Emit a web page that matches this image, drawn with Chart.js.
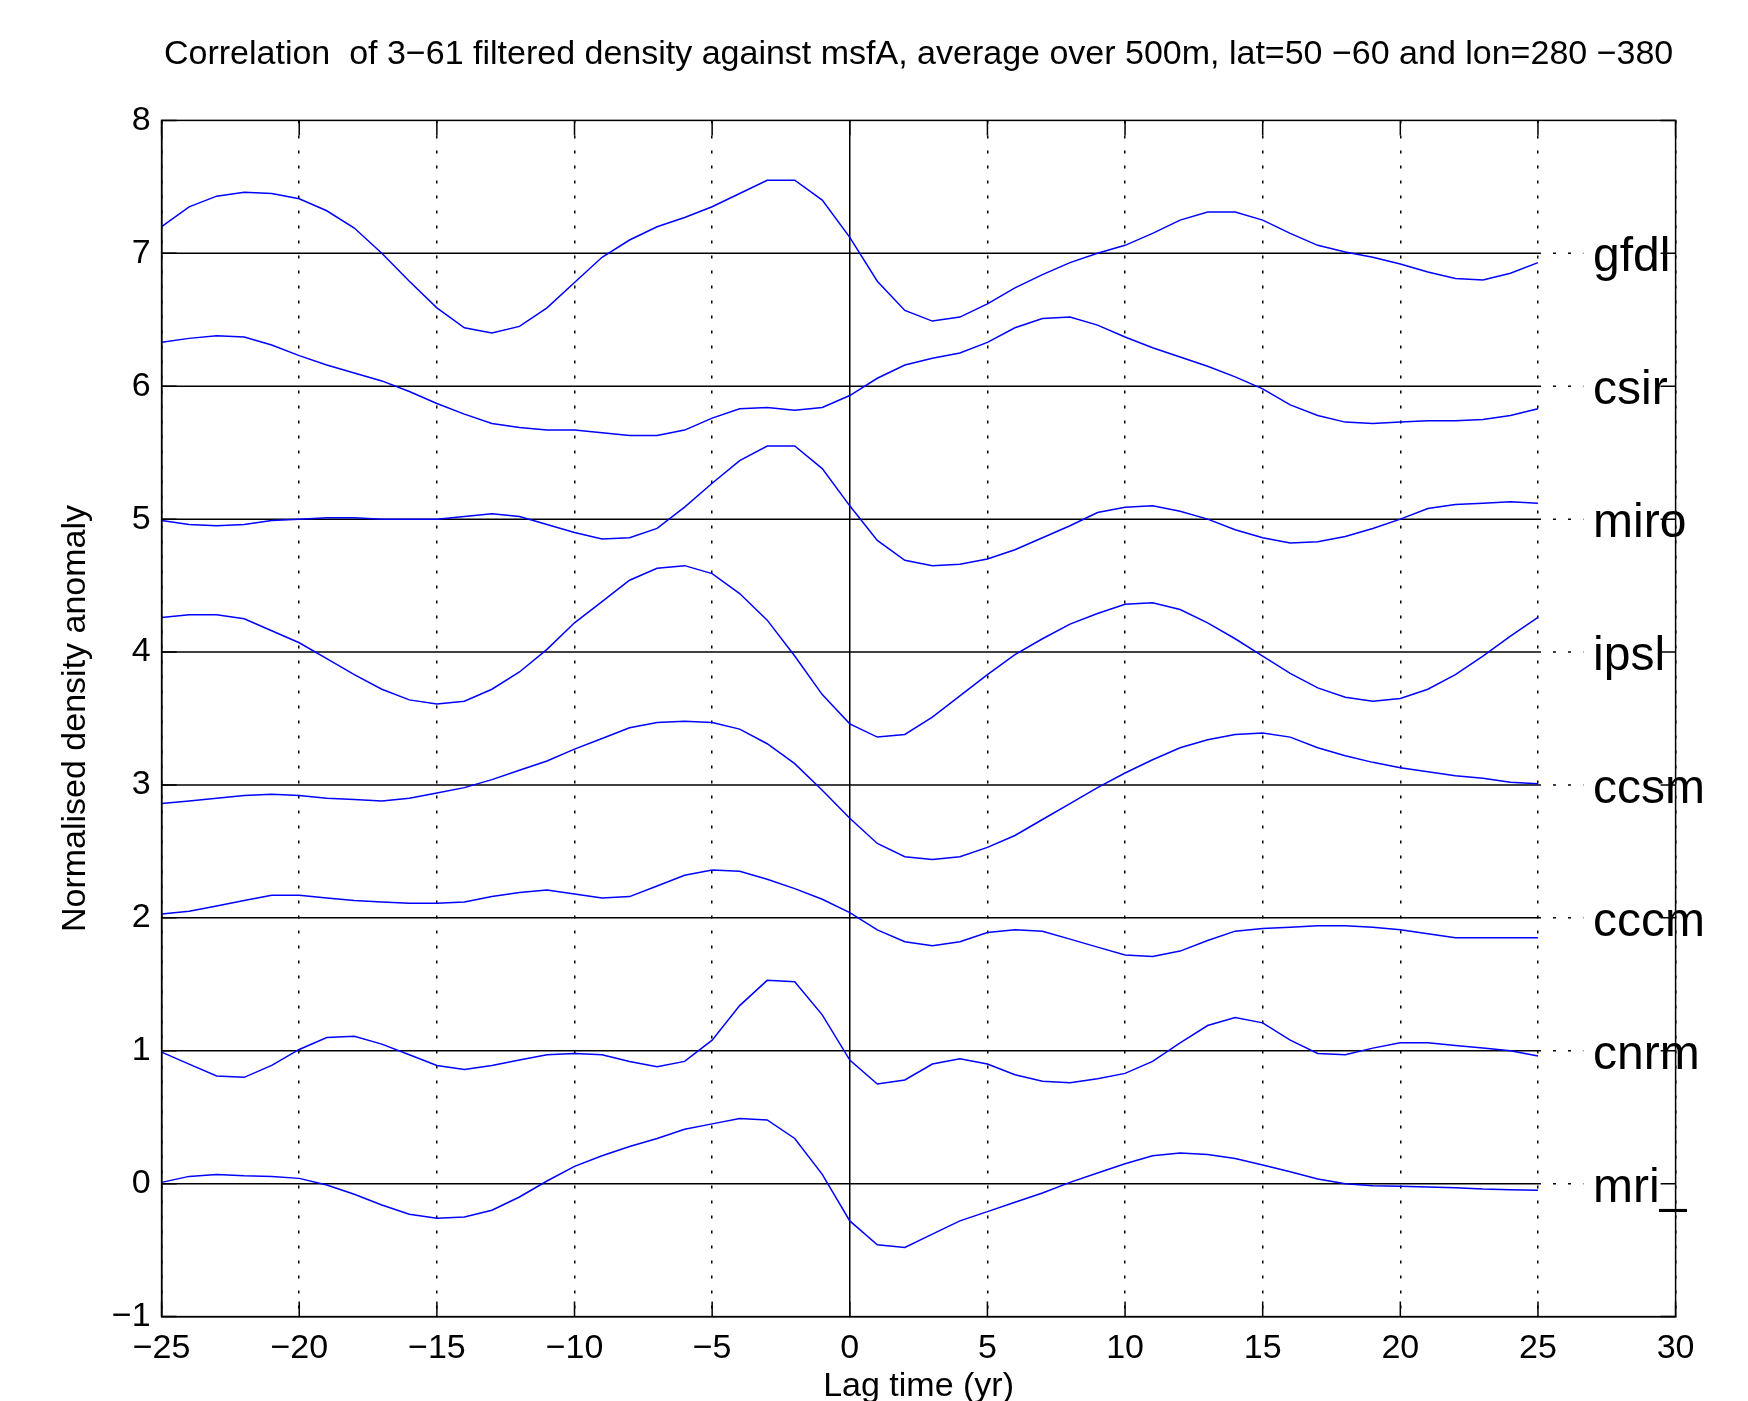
<!DOCTYPE html>
<html>
<head>
<meta charset="utf-8">
<title>Lag correlation of filtered density against msfA</title>
<script src="https://cdn.jsdelivr.net/npm/chart.js@4.4.1/dist/chart.umd.min.js"></script>
<style>
  html, body { margin: 0; padding: 0; background: #fff; }
  #wrap { width: 1748px; height: 1401px; }
</style>
</head>
<body>
<div id="wrap"><canvas id="lagChart" width="1748" height="1401"></canvas></div>
<script>
// lag in years (x axis)
const lagYears = [-25, -24, -23, -22, -21, -20, -19, -18, -17, -16, -15, -14, -13, -12, -11, -10, -9, -8, -7, -6,
  -5, -4, -3, -2, -1, 0, 1, 2, 3, 4, 5, 6, 7, 8, 9, 10, 11, 12, 13, 14,
  15, 16, 17, 18, 19, 20, 21, 22, 23, 24, 25];

// one curve per model, already shifted by its offset
const gfdl = [7.20, 7.35, 7.43, 7.46, 7.45, 7.41, 7.32, 7.19, 7.00, 6.79, 6.59, 6.44, 6.40, 6.45, 6.59, 6.78, 6.97, 7.10, 7.20, 7.27,
  7.35, 7.45, 7.55, 7.55, 7.40, 7.12, 6.79, 6.57, 6.49, 6.52, 6.62, 6.74, 6.84, 6.93, 7.00, 7.06, 7.15, 7.25, 7.31, 7.31,
  7.25, 7.15, 7.06, 7.01, 6.97, 6.92, 6.86, 6.81, 6.80, 6.85, 6.93];
const csir = [6.33, 6.36, 6.38, 6.37, 6.31, 6.23, 6.16, 6.10, 6.04, 5.96, 5.87, 5.79, 5.72, 5.69, 5.67, 5.67, 5.65, 5.63, 5.63, 5.67,
  5.76, 5.83, 5.84, 5.82, 5.84, 5.93, 6.06, 6.16, 6.21, 6.25, 6.33, 6.44, 6.51, 6.52, 6.46, 6.37, 6.29, 6.22, 6.15, 6.07,
  5.98, 5.86, 5.78, 5.73, 5.72, 5.73, 5.74, 5.74, 5.75, 5.78, 5.83];
const miro = [4.99, 4.96, 4.95, 4.96, 4.99, 5.00, 5.01, 5.01, 5.00, 5.00, 5.00, 5.02, 5.04, 5.02, 4.96, 4.90, 4.85, 4.86, 4.93, 5.09,
  5.27, 5.44, 5.55, 5.55, 5.38, 5.10, 4.84, 4.69, 4.65, 4.66, 4.70, 4.77, 4.86, 4.95, 5.05, 5.09, 5.10, 5.06, 5.00, 4.92,
  4.86, 4.82, 4.83, 4.87, 4.93, 5.00, 5.08, 5.11, 5.12, 5.13, 5.12];
const ipsl = [4.26, 4.28, 4.28, 4.25, 4.16, 4.07, 3.95, 3.83, 3.72, 3.64, 3.61, 3.63, 3.72, 3.85, 4.02, 4.22, 4.38, 4.54, 4.63, 4.65,
  4.59, 4.44, 4.24, 3.97, 3.68, 3.46, 3.36, 3.38, 3.51, 3.67, 3.83, 3.98, 4.10, 4.21, 4.29, 4.36, 4.37, 4.32, 4.22, 4.10,
  3.97, 3.84, 3.73, 3.66, 3.63, 3.65, 3.72, 3.83, 3.97, 4.12, 4.26];
const ccsm = [2.86, 2.88, 2.90, 2.92, 2.93, 2.92, 2.90, 2.89, 2.88, 2.90, 2.94, 2.98, 3.04, 3.11, 3.18, 3.27, 3.35, 3.43, 3.47, 3.48,
  3.47, 3.42, 3.31, 3.16, 2.96, 2.75, 2.56, 2.46, 2.44, 2.46, 2.53, 2.62, 2.74, 2.86, 2.98, 3.09, 3.19, 3.28, 3.34, 3.38,
  3.39, 3.36, 3.28, 3.22, 3.17, 3.13, 3.10, 3.07, 3.05, 3.02, 3.01];
const cccm = [2.03, 2.05, 2.09, 2.13, 2.17, 2.17, 2.15, 2.13, 2.12, 2.11, 2.11, 2.12, 2.16, 2.19, 2.21, 2.18, 2.15, 2.16, 2.24, 2.32,
  2.36, 2.35, 2.29, 2.22, 2.14, 2.04, 1.91, 1.82, 1.79, 1.82, 1.89, 1.91, 1.90, 1.84, 1.78, 1.72, 1.71, 1.75, 1.83, 1.90,
  1.92, 1.93, 1.94, 1.94, 1.93, 1.91, 1.88, 1.85, 1.85, 1.85, 1.85];
const cnrm = [0.99, 0.90, 0.81, 0.80, 0.89, 1.01, 1.10, 1.11, 1.05, 0.97, 0.89, 0.86, 0.89, 0.93, 0.97, 0.98, 0.97, 0.92, 0.88, 0.92,
  1.08, 1.34, 1.53, 1.52, 1.27, 0.93, 0.75, 0.78, 0.90, 0.94, 0.90, 0.82, 0.77, 0.76, 0.79, 0.83, 0.92, 1.06, 1.19, 1.25,
  1.21, 1.08, 0.98, 0.97, 1.02, 1.06, 1.06, 1.04, 1.02, 1.00, 0.96];
const mri = [0.01, 0.055, 0.07, 0.06, 0.055, 0.04, -0.01, -0.08, -0.16, -0.23, -0.26, -0.25, -0.20, -0.10, 0.02, 0.13, 0.21, 0.28, 0.34, 0.41,
  0.45, 0.49, 0.48, 0.34, 0.07, -0.28, -0.46, -0.48, -0.38, -0.28, -0.21, -0.14, -0.07, 0.01, 0.08, 0.15, 0.21, 0.23, 0.22, 0.19,
  0.14, 0.09, 0.035, 0.00, -0.015, -0.02, -0.025, -0.03, -0.04, -0.045, -0.05];

// model names and the baseline each curve sits on
const modelNames = ["gfdl", "csir", "miro", "ipsl", "ccsm", "cccm", "cnrm", "mri_"];
const modelOffsets = [7, 6, 5, 4, 3, 2, 1, 0];
const modelSeries = [gfdl, csir, miro, ipsl, ccsm, cccm, cnrm, mri];

const FONT = "'Liberation Sans', Arial, Helvetica, sans-serif";
const minus = v => String(v).replace("-", "\u2212");

// baselines, inward ticks, box and model names
const matlabFrame = {
    id: "matlabFrame",
    beforeDatasetsDraw(chart) {
        const { ctx, scales: { x, y } } = chart;
        ctx.save();
        ctx.strokeStyle = "#000";
        ctx.lineWidth = 1.5;
        modelOffsets.forEach(off => {
            const py = y.getPixelForValue(off);
            ctx.setLineDash([]);
            ctx.beginPath();
            ctx.moveTo(x.getPixelForValue(-25), py);
            ctx.lineTo(x.getPixelForValue(25), py);
            ctx.stroke();
            ctx.setLineDash([3, 12]);
            ctx.beginPath();
            ctx.moveTo(x.getPixelForValue(25), py);
            ctx.lineTo(x.getPixelForValue(26.65), py);
            ctx.stroke();
        });
        ctx.restore();
    },
    afterDraw(chart) {
        const { ctx, chartArea: a, scales: { x, y } } = chart;
        ctx.save();
        ctx.strokeStyle = "#000";
        ctx.lineWidth = 1.5;
        ctx.setLineDash([]);
        ctx.strokeRect(a.left, a.top, a.right - a.left, a.bottom - a.top);
        const len = 15;
        ctx.beginPath();
        x.ticks.forEach(t => {
            const px = x.getPixelForValue(t.value);
            ctx.moveTo(px, a.bottom); ctx.lineTo(px, a.bottom - len);
            ctx.moveTo(px, a.top); ctx.lineTo(px, a.top + len);
        });
        y.ticks.forEach(t => {
            const py = y.getPixelForValue(t.value);
            ctx.moveTo(a.left, py); ctx.lineTo(a.left + len, py);
            ctx.moveTo(a.right, py); ctx.lineTo(a.right - len, py);
        });
        ctx.stroke();

        ctx.fillStyle = "#000";
        ctx.font = "48px " + FONT;
        ctx.textBaseline = "alphabetic";
        ctx.textAlign = "left";
        modelNames.forEach((name, i) => {
            ctx.fillText(name, x.getPixelForValue(27), y.getPixelForValue(modelOffsets[i]) + 18);
        });
        ctx.restore();
    }
};

Chart.defaults.color = "#000";
Chart.defaults.font.family = FONT;

new Chart(document.getElementById("lagChart"), {
    type: "line",
    data: {
        datasets: modelSeries.map((vals, i) => ({
            label: modelNames[i],
            data: lagYears.map((lag, j) => ({ x: lag, y: vals[j] })),
            borderColor: "#0000ff",
            borderWidth: 1.5,
            pointRadius: 0,
            tension: 0,
            fill: false
        }))
    },
    options: {
        responsive: false,
        animation: false,
        devicePixelRatio: 1,
        layout: { padding: { left: 0, right: 72.4, top: 0, bottom: 0 } },
        plugins: {
            legend: { display: false },
            tooltip: { enabled: false },
            title: {
                display: true,
                fullSize: false,
                text: "Correlation  of 3\u221261 filtered density against msfA, average over 500m, lat=50 \u221260 and lon=280 \u2212380",
                color: "#000",
                font: { size: 34, weight: "normal", lineHeight: 1.2 },
                padding: { top: 34.5, bottom: 45.1 }
            }
        },
        scales: {
            x: {
                type: "linear",
                min: -25,
                max: 30,
                afterFit: s => { s.height = 84.4; },
                ticks: {
                    stepSize: 5,
                    padding: 12,
                    font: { size: 34, lineHeight: 1.2 },
                    callback: minus
                },
                grid: {
                    color: "#000",
                    lineWidth: 1.5,
                    drawTicks: false
                },
                border: {
                    display: true,
                    color: "#000",
                    width: 1.5,
                    dash: c => (c.tick && c.tick.value === 0 ? [] : [3, 12])
                },
                title: {
                    display: true,
                    text: "Lag time (yr)",
                    font: { size: 34, lineHeight: 1 },
                    padding: { top: 0, bottom: -3 }
                }
            },
            y: {
                min: -1,
                max: 8,
                afterFit: s => { s.width = 161.6; },
                ticks: {
                    stepSize: 1,
                    padding: 11,
                    font: { size: 34 },
                    callback: minus
                },
                grid: { display: false, drawTicks: false },
                border: { display: true, color: "#000", width: 1.5 },
                title: {
                    display: true,
                    text: "Normalised density anomaly",
                    font: { size: 34, lineHeight: 1.2 },
                    padding: { top: 55, bottom: 0 }
                }
            }
        }
    },
    plugins: [matlabFrame]
});
</script>
</body>
</html>
